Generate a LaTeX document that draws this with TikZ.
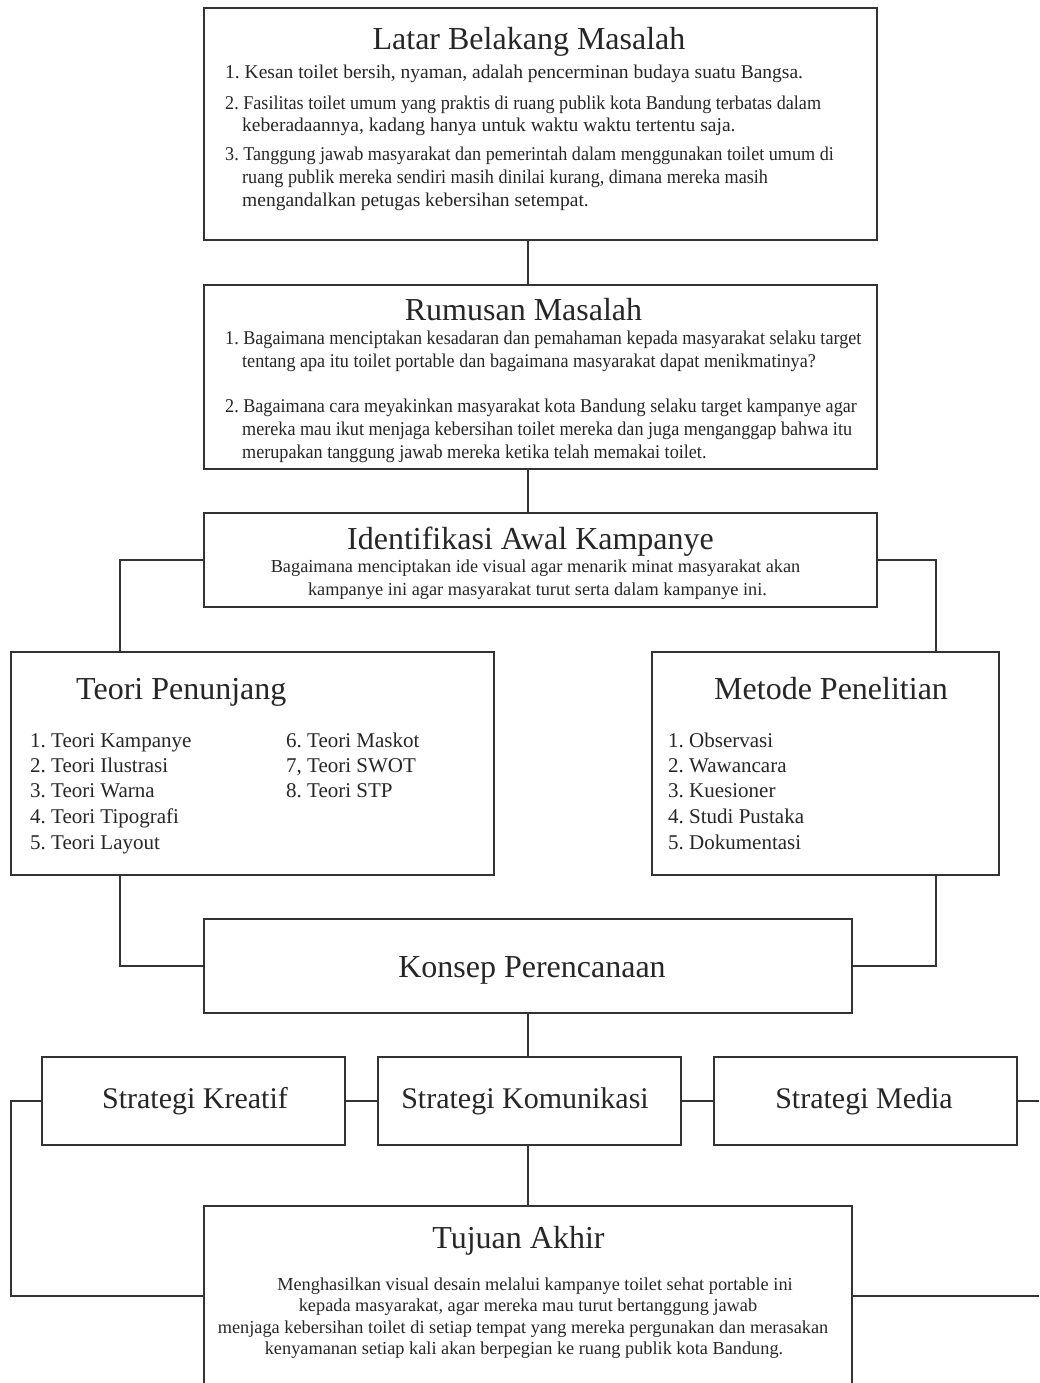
\documentclass[tikz,border=0pt]{standalone}
\usepackage{fontspec}
\setmainfont{Liberation Serif}
\newfontfamily\condfont[FakeStretch=0.93]{Liberation Serif}
\definecolor{linec}{HTML}{333333}
\definecolor{textc}{HTML}{262626}
\frenchspacing
\begin{document}
\begin{tikzpicture}[x=1pt,y=-1pt,
  box/.style={draw=linec,line width=2.5pt,inner sep=0pt},
  conn/.style={draw=linec,line width=2.5pt},
  tl/.style={inner sep=0pt,text=textc,anchor=base west},
  tc/.style={inner sep=0pt,text=textc,anchor=base},
  ttl/.style={tc,font=\fontsize{32}{38}\selectfont},
  stt/.style={inner sep=0pt,text=textc,font=\fontsize{30}{36}\selectfont},
  bA/.style={font=\fontsize{19.5}{23}\selectfont},
  bAc/.style={font=\condfont\fontsize{19.5}{23}\selectfont},
  bB/.style={font=\fontsize{18.3}{22}\selectfont},
  bC/.style={font=\fontsize{21}{25}\selectfont}]
\path[use as bounding box, clip] (0,0) rectangle (1039,1383);
\fill[white] (0,0) rectangle (1039,1383);

% boxes
\node[box,minimum width=673pt,minimum height=232pt] (latar) at (540.5,124) {};
\node[box,minimum width=673pt,minimum height=184pt] (rumusan) at (540.5,377) {};
\node[box,minimum width=673pt,minimum height=94pt] (ident) at (540.5,560) {};
\node[box,minimum width=483pt,minimum height=223pt] (teori) at (252.5,763.5) {};
\node[box,minimum width=347pt,minimum height=223pt] (metode) at (825.5,763.5) {};
\node[box,minimum width=648pt,minimum height=94pt] (konsep) at (528,966) {};
\node[box,minimum width=303pt,minimum height=88pt] (kreatif) at (193.5,1101) {};
\node[box,minimum width=303pt,minimum height=88pt] (komunikasi) at (529.5,1101) {};
\node[box,minimum width=303pt,minimum height=88pt] (media) at (865.5,1101) {};
\node[box,minimum width=648pt,minimum height=180pt] (tujuan) at (528,1296) {};

% connectors
\coordinate (jl) at (120,559);
\coordinate (jr) at (936,559);
\coordinate (ol) at (11,1101);
\coordinate (or) at (1039,1101);
\coordinate (br) at (1039,1296);
\draw[conn] (latar.south -| konsep.center) -- (rumusan.north -| konsep.center);
\draw[conn] (rumusan.south -| konsep.center) -- (ident.north -| konsep.center);
\draw[conn] (ident.west) -| (jl |- teori.north);
\draw[conn] (ident.east) -| (jr |- metode.north);
\draw[conn] (jl |- teori.south) |- (konsep.west);
\draw[conn] (jr |- metode.south) |- (konsep.east);
\draw[conn] (konsep.south) -- (konsep.south |- komunikasi.north);
\draw[conn] (kreatif.east) -- (komunikasi.west);
\draw[conn] (komunikasi.east) -- (media.west);
\draw[conn] (kreatif.west) -- (ol) |- (tujuan.west);
\draw[conn] (media.east) -- (or);
\draw[conn] (tujuan.east) -- (br);
\draw[conn] (komunikasi.south -| konsep.south) -- (tujuan.north -| konsep.south);

% Latar Belakang
\node[ttl] (latarT) at (529,50) {Latar Belakang Masalah};
\node[tl,bA] (la1) at (225,79) {1. Kesan toilet bersih, nyaman, adalah pencerminan budaya suatu Bangsa.};
\node[tl,bAc] (la2) at (225,110) {2. Fasilitas toilet umum yang praktis di ruang publik kota Bandung terbatas dalam};
\node[tl,bA] (la3) at (242,132) {keberadaannya, kadang hanya untuk waktu waktu tertentu saja.};
\node[tl,bAc] (la4) at (225,161) {3. Tanggung jawab masyarakat dan pemerintah dalam menggunakan toilet umum di};
\node[tl,bAc] (la5) at (242,184) {ruang publik mereka sendiri masih dinilai kurang, dimana mereka masih};
\node[tl,bA] (la6) at (242,207) {mengandalkan petugas kebersihan setempat.};

% Rumusan
\node[ttl] (rumT) at (523.5,320) {Rumusan Masalah};
\node[tl,bAc] (ru1) at (225,344) {1. Bagaimana menciptakan kesadaran dan pemahaman kepada masyarakat selaku target};
\node[tl,bAc] (ru2) at (242,367) {tentang apa itu toilet portable dan bagaimana masyarakat dapat menikmatinya?};
\node[tl,bAc] (ru3) at (225,412) {2. Bagaimana cara meyakinkan masyarakat kota Bandung selaku target kampanye agar};
\node[tl,bAc] (ru4) at (242,435) {mereka mau ikut menjaga kebersihan toilet mereka dan juga menganggap bahwa itu};
\node[tl,bAc] (ru5) at (242,458) {merupakan tanggung jawab mereka ketika telah memakai toilet.};

% Identifikasi
\node[ttl] (idT) at (530.5,549) {Identifikasi Awal Kampanye};
\node[tc,bB] (id1) at (535.5,572) {Bagaimana menciptakan ide visual agar menarik minat masyarakat akan};
\node[tc,bB] (id2) at (537.5,595) {kampanye ini agar masyarakat turut serta dalam kampanye ini.};

% Teori
\node[tl,font=\fontsize{32}{38}\selectfont] (teT) at (76,699) {Teori Penunjang};
\node[tl,bC] (te1) at (30,747) {1. Teori Kampanye};
\node[tl,bC] (te2) at (30,772) {2. Teori Ilustrasi};
\node[tl,bC] (te3) at (30,797) {3. Teori Warna};
\node[tl,bC] (te4) at (30,823) {4. Teori Tipografi};
\node[tl,bC] (te5) at (30,849) {5. Teori Layout};
\node[tl,bC] (te6) at (286,747) {6. Teori Maskot};
\node[tl,bC] (te7) at (286,772) {7, Teori SWOT};
\node[tl,bC] (te8) at (286,797) {8. Teori STP};

% Metode
\node[tl,font=\fontsize{32}{38}\selectfont] (meT) at (714,699) {Metode Penelitian};
\node[tl,bC] (me1) at (668,747) {1. Observasi};
\node[tl,bC] (me2) at (668,772) {2. Wawancara};
\node[tl,bC] (me3) at (668,797) {3. Kuesioner};
\node[tl,bC] (me4) at (668,823) {4. Studi Pustaka};
\node[tl,bC] (me5) at (668,849) {5. Dokumentasi};

% Konsep
\node[ttl] (koT) at (532,977) {Konsep Perencanaan};

% Strategi
\node[stt] (krT) at (195,1101) {Strategi Kreatif};
\node[stt] (kmT) at (525,1101) {Strategi Komunikasi};
\node[stt] (mdT) at (864,1101) {Strategi Media};

% Tujuan
\node[ttl] (tuT) at (518.5,1248) {Tujuan Akhir};
\node[tc,bB] (tu1) at (535,1290) {Menghasilkan visual desain melalui kampanye toilet sehat portable ini};
\node[tc,bB] (tu2) at (528,1311.5) {kepada masyarakat, agar mereka mau turut bertanggung jawab};
\node[tc,bB] (tu3) at (523,1333) {menjaga kebersihan toilet di setiap tempat yang mereka pergunakan dan merasakan};
\node[tc,bB] (tu4) at (524,1354.5) {kenyamanan setiap kali akan berpegian ke ruang publik kota Bandung.};
\end{tikzpicture}
\end{document}
